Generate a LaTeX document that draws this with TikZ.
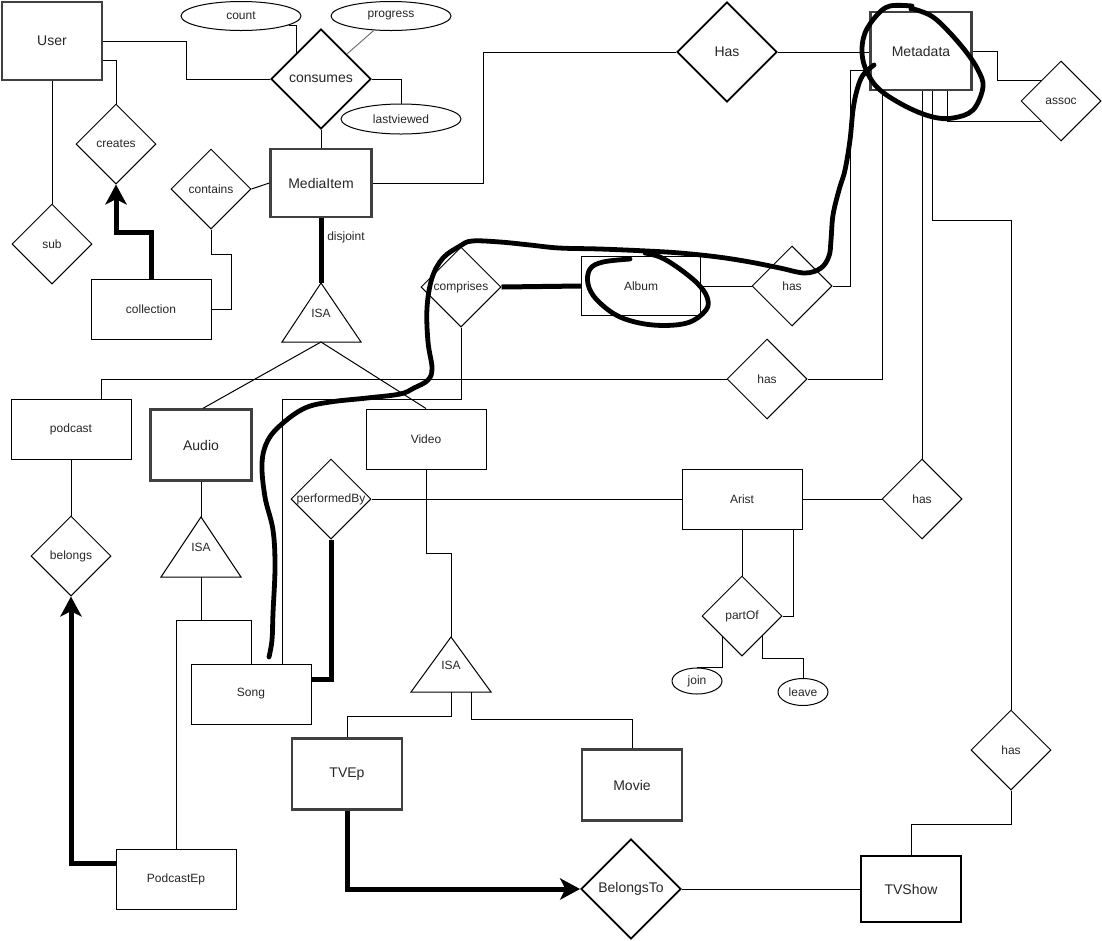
\documentclass[tikz,border=0pt]{standalone}
\usepackage{fontspec}
\setmainfont{Liberation Sans}
\usetikzlibrary{shapes.geometric,arrows.meta,calc}
\begin{document}
\begin{tikzpicture}[x=0.75pt,y=-0.75pt,
  every node/.style={text=black!85},
  fbig/.style={font=\fontsize{10.5}{12}\selectfont},
  fsml/.style={font=\fontsize{9}{11}\selectfont},
  ent/.style={rectangle,draw,line width=0.75pt,inner sep=0pt,fsml,minimum width=90pt,minimum height=45pt},
  entw/.style={rectangle,draw=black!75,line width=1.8pt,inner sep=0pt,fbig},
  rel/.style={diamond,draw,line width=0.75pt,inner sep=0pt,minimum width=60pt,minimum height=60pt},
  relw/.style={diamond,draw,line width=1.4pt,inner sep=0pt,minimum width=75pt,minimum height=75pt},
  att/.style={ellipse,draw,line width=0.75pt,inner sep=0pt,fsml},
  conn/.style={line width=0.75pt},
  heavy/.style={line width=3.75pt},
  arrowhd/.style={-{Stealth[length=15pt,width=16pt,inset=4pt]}},
  scrib/.style={line width=3.6pt,line cap=round,line join=round},
  lb/.style={fsml},
  lbb/.style={fbig}
]
\path[use as bounding box] (0,0) rectangle (1102,940);

% ---------- entities ----------
\node[entw,minimum width=75pt,minimum height=58.5pt] (user) at (52,41) {User};
\node[entw,minimum width=75.75pt,minimum height=51pt] (media) at (321,183) {MediaItem};
\node[entw,minimum width=75.75pt,minimum height=58.5pt] (meta) at (921,51) {Metadata};
\node[entw,minimum width=75.75pt,minimum height=53.25pt] (audio) at (201,445) {Audio};
\node[entw,minimum width=82.5pt,minimum height=53.25pt] (tvep) at (347,774) {TVEp};
\node[entw,minimum width=75pt,minimum height=53.25pt] (movie) at (632,785) {Movie};
\node[rectangle,draw,line width=1.5pt,inner sep=0pt,fbig,minimum width=75pt,minimum height=49.5pt] (tvshow) at (911,889) {TVShow};

\node[ent] (collection) at (151,309) {collection};
\node[ent] (podcast) at (71,429) {podcast};
\node[ent] (video) at (426,439) {Video};
\node[ent,minimum width=89.25pt,minimum height=44.25pt] (album) at (641,286) {Album};
\node[ent] (arist) at (742,499) {Arist};
\node[ent] (song) at (251,694) {Song};
\node[ent] (podep) at (176,879) {PodcastEp};

% ---------- attributes ----------
\node[att,minimum width=90pt,minimum height=21.75pt] (count) at (241,16) {count};
\node[att,minimum width=90pt,minimum height=21.75pt] (progress) at (391,16) {progress};
\node[att,minimum width=90pt,minimum height=22.5pt] (lastviewed) at (401,119) {lastviewed};
\node[att,minimum width=37.5pt,minimum height=19.5pt] (join) at (697,681) {join};
\node[att,minimum width=37.5pt,minimum height=20.25pt] (leave) at (803,692) {leave};

% ---------- relationships ----------
\node[relw,label={[lbb]center:consumes}] (consumes) at (321,79) {};
\node[relw,label={[lbb]center:Has}] (has) at (727,52) {};
\node[relw,label={[lbb]center:BelongsTo}] (belongsto) at (631,889) {};
\node[rel,label={[lb]center:creates}] (creates) at (116,144) {};
\node[rel,label={[lb]center:contains}] (contains) at (211,189) {};
\node[rel,label={[lb]center:sub}] (sub) at (52,244) {};
\node[rel,label={[lb]center:comprises}] (comprises) at (461,287) {};
\node[rel,label={[lb]center:has}] (hasA) at (792,286) {};
\node[rel,label={[lb]center:has}] (hasB) at (767,379) {};
\node[rel,label={[lb]center:performedBy}] (perf) at (331,499) {};
\node[rel,label={[lb]center:has}] (hasC) at (922,499) {};
\node[rel,label={[lb]center:belongs}] (belongs) at (71,556) {};
\node[rel,label={[lb]center:partOf}] (partof) at (742,616) {};
\node[rel,label={[lb]center:has}] (hasD) at (1011,750) {};
\node[rel,label={[lb]center:assoc}] (assoc) at (1061,101) {};

% ---------- ISA triangles ----------
\coordinate (isa1top) at (321,283); \coordinate (isa1bot) at (321,342);
\draw[conn] (isa1top) -- (282,342) -- (361,342) -- cycle;
\node[lb] (isa1) at (321,313) {ISA};
\coordinate (isa2top) at (201,517); \coordinate (isa2bot) at (201,577);
\draw[conn] (isa2top) -- (161,577) -- (241,577) -- cycle;
\node[lb] (isa2) at (201,547) {ISA};
\coordinate (isa3top) at (451,637); \coordinate (isa3bot) at (451,692); \coordinate (isa3r) at (471,692);
\draw[conn] (isa3top) -- (411,692) -- (491,692) -- cycle;
\node[lb] (isa3) at (451,665) {ISA};

\node[lb] (disj) at (346,237) {disjoint};

% ---------- connectors ----------
\draw[conn] (user.east) -- (186,41) |- (consumes.west);
\draw[conn] ([shift={(0,19)}]user.east) -| (creates.north);
\draw[conn] (user.south) -- (sub.north);
\draw[conn] (count.-11) -| (consumes.133);
\draw[conn,draw=black!55] (progress.-140) -- (consumes.44);
\draw[conn] (consumes.east) -| (lastviewed.north);
\draw[conn] (consumes.south) -- (media.north);
\draw[heavy,arrowhd] (collection.north) -- ++(0,-46) -| (creates.south);
\draw[conn] (contains.east) -- (media.west);
\draw[conn] (contains.south) -- ++(0,25) -- ++(20,0) |- (collection.east);
\draw[heavy] (media.south) -- (isa1top);
\draw[conn] (media.east) -- (483,183) |- (has.west);
\draw[conn] (has.east) -- (has.east -| meta.west);
\draw[conn] (meta.east) -- ++(25,0) |- (assoc.134);
\draw[conn] ([shift={(26,0)}]meta.south) |- (assoc.-134);
\draw[conn] ([shift={(0,19)}]meta.west) -- ++(-19,0) |- (hasA.east);
\draw[conn] (album.east) -- (hasA.west);
\draw[heavy] (comprises.east) -- (album.west);
\draw[conn] (comprises.south) -- ++(0,72) -| ([shift={(31,0)}]song.north);
\draw[conn] ([shift={(-39,0)}]meta.south) |- (hasB.east);
\draw[conn] ([shift={(30,0)}]podcast.north) |- (hasB.west);
\draw[conn] (hasC.north |- meta.south) -- (hasC.north);
\draw[conn] ([shift={(11,0)}]meta.south) -- ++(0,129) -| (hasD.north);
\draw[conn] (hasD.south) -- ++(0,34) -| (tvshow.north);
\draw[conn] (arist.east) -- (hasC.west);
\draw[conn] (perf.east) -- (arist.west);
\draw[heavy] ([shift={(0,-15)}]song.east) -| (perf.south);
\draw[conn] (isa1bot) -- ([shift={(2,0)}]audio.north);
\draw[conn] (isa1bot) -- (video.north);
\draw[conn] (audio.south) -- (isa2top);
\draw[conn] (isa2bot) -- ++(0,43) -| (song.north);
\draw[conn] (isa2bot) -- ++(0,43) -| (podep.north);
\draw[conn] (podcast.south) -- (belongs.north);
\draw[heavy,arrowhd] ([shift={(0,-16)}]podep.west) -| (belongs.south);
\draw[conn] (video.south) -- ++(0,84) -| (isa3top);
\draw[conn] (isa3bot) -- ++(0,24) -| (tvep.north);
\draw[conn] (isa3r) -- ++(0,27) -| (movie.north);
\draw[heavy,arrowhd] (tvep.south) |- (belongsto.west);
\draw[conn] (belongsto.east) -- (tvshow.west);
\draw[conn] (arist.south) -- (partof.north);
\draw[conn] ([shift={(51,0)}]arist.south) |- (partof.east);
\draw[conn] (partof.-132) |- (join.north);
\draw[conn] (partof.-45) -- ++(0,22) -| (leave.north);

% ---------- hand-drawn strokes ----------
\draw[scrib] plot[smooth,tension=0.6] coordinates {(912,6) (890,6) (877,15) (865,33) (862,53) (867,72) (880,90) (907,107) (933,117) (953,118) (973,110) (983,87) (978,70) (967,53) (950,33) (933,17) (917,10) (911,9)};
\draw[scrib] plot[smooth,tension=0.6] coordinates {(874,65) (863,75) (857,90) (853,110) (850,140) (845,170) (839,190) (833,215) (831,240) (829,256) (821,268) (805,273) (780,268) (750,262) (718,257) (680,253) (647,251) (600,249) (559,248) (530,245) (500,242) (472,241) (460,246) (443,258) (432,278) (427,308) (428,342) (432,368) (428,380) (414,388) (400,394) (367,398) (330,402) (305,408) (283,423) (268,440) (262,463) (265,497) (273,530) (275,567) (273,613) (272,640) (269,657)};
\draw[scrib] plot[smooth,tension=0.6] coordinates {(630,259) (603,262) (590,269) (588,284) (597,300) (620,317) (653,325) (687,323) (706,310) (707,297) (697,283) (677,267) (660,257) (645,253)};
\end{tikzpicture}
\end{document}
